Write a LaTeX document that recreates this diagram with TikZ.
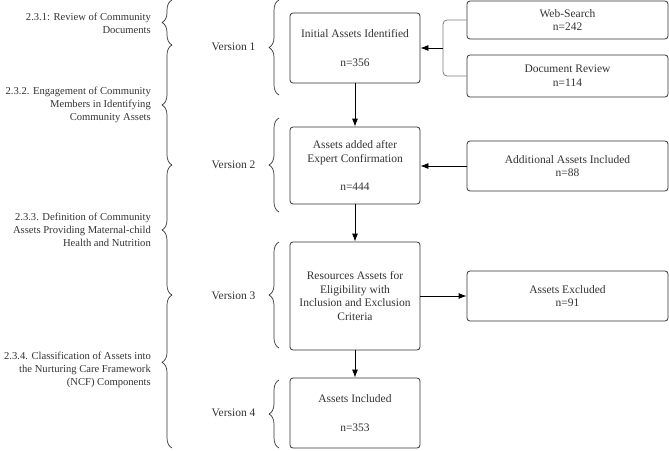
\documentclass[tikz,border=0pt]{standalone}
\usepackage{fontspec}
\setmainfont{Liberation Serif}
\usetikzlibrary{arrows.meta,decorations.pathreplacing}
\definecolor{inkgray}{HTML}{333333}
\definecolor{linkgray}{HTML}{7A7A7A}
\tikzset{
  box/.style={draw=inkgray,rounded corners=3pt,align=center,inner sep=2pt,line width=0.8pt},
  brc/.style={draw=inkgray,line width=0.7pt,decorate,decoration={brace,amplitude=10pt}},
  sect/.style={anchor=east,align=right,inner sep=0pt,font=\fontsize{10.6}{13}\selectfont},
  arr/.style={->,draw=black,line width=0.8pt},
}
\begin{document}
\begin{tikzpicture}[x=1pt,y=-1pt,>={Latex[length=8pt,width=6pt]},line join=round,
  font=\fontsize{11.5}{13.8}\selectfont,text=inkgray]
\useasboundingbox (0,0) rectangle (669,450);
	\node[box,minimum width=130pt,minimum height=70pt] (init) at (355,48) {Initial Assets Identified\\[15pt]n=356};
	\node[box,minimum width=130pt,minimum height=77pt] (expert) at (355,165.5) {Assets added after\\Expert Confirmation\\[15pt]n=444};
	\node[box,minimum width=130pt,minimum height=108pt] (elig) at (355,296) {Resources Assets for\\Eligibility with\\Inclusion and Exclusion\\Criteria};
	\node[box,minimum width=130pt,minimum height=70pt] (incl) at (355,413) {Assets Included\\[15pt]n=353};
	\node[box,minimum width=201pt,minimum height=38pt] (web) at (567.5,20) {Web-Search\\n=242};
	\node[box,minimum width=201pt,minimum height=42pt] (docrev) at (567.5,76) {Document Review\\n=114};
	\node[box,minimum width=201pt,minimum height=50pt] (addl) at (567.5,166) {Additional Assets Included\\n=88};
	\node[box,minimum width=201pt,minimum height=50pt] (excl) at (567.5,296) {Assets Excluded\\n=91};
	\coordinate (jn) at (443,48);
	\draw[draw=linkgray,line width=0.8pt,rounded corners=4pt] (web.west) -| (jn) |- (docrev.west);
	\draw[arr] (jn) -- (init.east);
	\draw[arr] (init) -- (expert);
	\draw[arr] (expert) -- (elig);
	\draw[arr] (elig) -- (incl);
	\draw[arr] (addl.west) -- (expert.east|-addl.west);
	\draw[arr] (elig.east) -- (excl.west);
	\draw[brc] (279,95) -- (279,0);
	\draw[brc] (279,212) -- (279,118);
	\draw[brc] (279,348) -- (279,242);
	\draw[brc] (279,448) -- (279,380);
	\node (v1) at (233.5,47) {Version 1};
	\node (v2) at (233.5,165) {Version 2};
	\node (v3) at (233.5,296) {Version 3};
	\node (v4) at (233.5,413) {Version 4};
	\draw[brc] (172,45) -- (172,0);
	\draw[brc] (172,165) -- (172,45);
	\draw[brc] (172,295) -- (172,165);
	\draw[brc,decoration={aspect=0.56}] (172,448) -- (172,295);
	\node[sect] (s1) at (151,23) {2.3.1: Review of Community\\Documents};
	\node[sect] (s2) at (151,105) {2.3.2. Engagement of Community\\Members in Identifying\\Community Assets};
	\node[sect] (s3) at (151,230) {2.3.3. Definition of Community\\Assets Providing Maternal-child\\Health and Nutrition};
	\node[sect] (s4) at (151,370) {2.3.4. Classification of Assets into\\the Nurturing Care Framework\\(NCF) Components};
\end{tikzpicture}
\end{document}
